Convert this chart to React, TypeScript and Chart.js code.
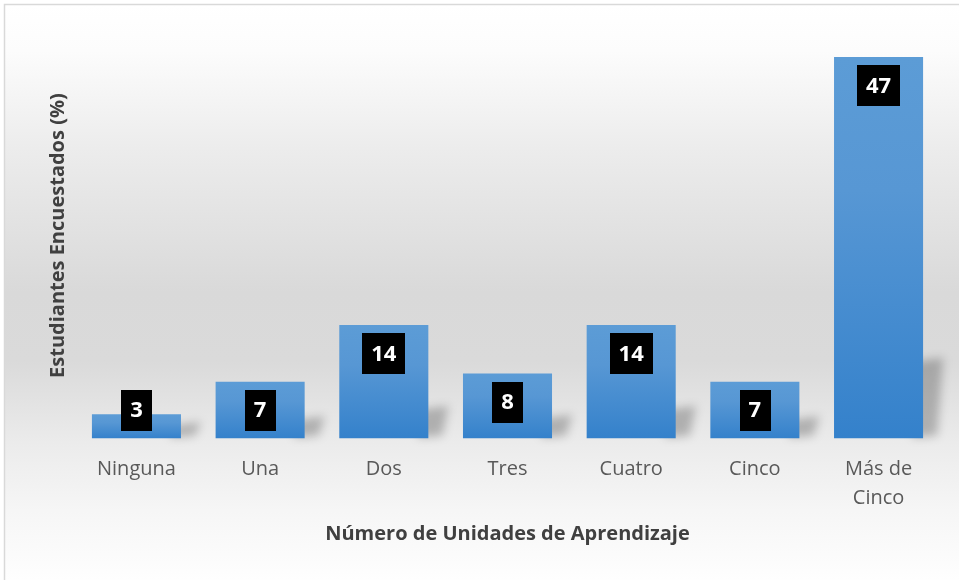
import { useEffect, useRef } from "react";
import { Chart, registerables } from "chart.js";

Chart.register(...registerables);

const categories: (string | string[])[] = ["Ninguna", "Una", "Dos", "Tres", "Cuatro", "Cinco", ["Más de", "Cinco"]];
const values: number[] = [3, 7, 14, 8, 14, 7, 47];
const yMin = 0;
const yMax = 50;
const xTitle = "Número de Unidades de Aprendizaje";
const yTitle = "Estudiantes Encuestados (%)";

const W = 959;
const H = 580;

const backgroundPlugin = {
  id: "bgFrame",
  beforeDraw(chart: any) {
    const ctx = chart.ctx;
    ctx.save();
    const g = ctx.createLinearGradient(0, 5, 0, H);
    g.addColorStop(0, "#ffffff");
    g.addColorStop(0.08, "#fcfcfc");
    g.addColorStop(0.25, "#ececec");
    g.addColorStop(0.5, "#d9d9d9");
    g.addColorStop(0.62, "#dadada");
    g.addColorStop(0.76, "#ebebeb");
    g.addColorStop(0.88, "#f6f6f6");
    g.addColorStop(1, "#fefefe");
    ctx.fillStyle = g;
    ctx.fillRect(5, 5, W - 5, H - 5);
    ctx.strokeStyle = "#d9d9d9";
    ctx.lineWidth = 1.5;
    ctx.beginPath();
    ctx.moveTo(4.5, H);
    ctx.lineTo(4.5, 4.5);
    ctx.lineTo(W, 4.5);
    ctx.stroke();
    ctx.restore();
  },
};

const shadowPlugin = {
  id: "barShadow",
  beforeDatasetsDraw(chart: any) {
    const ctx = chart.ctx;
    const meta = chart.getDatasetMeta(0);
    ctx.save();
    ctx.filter = "blur(5px)";
    ctx.fillStyle = "rgba(0,0,0,0.24)";
    meta.data.forEach((bar: any) => {
      const right = bar.x + bar.width / 2;
      const h = bar.base - bar.y;
      const sh = 12 + 0.18 * h;
      ctx.beginPath();
      ctx.moveTo(right - 10, bar.base - 1);
      ctx.lineTo(right + 14, bar.base - 3);
      ctx.lineTo(right + 20, bar.base - sh);
      ctx.lineTo(right - 10, bar.base - sh + 4);
      ctx.closePath();
      ctx.fill();
    });
    ctx.restore();
  },
};

const labelPlugin = {
  id: "boxLabels",
  afterDatasetsDraw(chart: any) {
    const ctx = chart.ctx;
    const meta = chart.getDatasetMeta(0);
    const ds = chart.data.datasets[0];
    ctx.save();
    ctx.font = "bold 22px 'Open Sans'";
    ctx.textAlign = "center";
    ctx.textBaseline = "middle";
    meta.data.forEach((bar: any, i: number) => {
      const txt = String(ds.data[i]);
      const tw = ctx.measureText(txt).width;
      const bw = tw + 18;
      const bh = 41;
      let top = bar.y + 8;
      if (top + bh > bar.base - 8) top = bar.base - 8 - bh;
      ctx.fillStyle = "#000000";
      ctx.fillRect(Math.round(bar.x - bw / 2), Math.round(top), Math.round(bw), bh);
      ctx.fillStyle = "#ffffff";
      ctx.fillText(txt, bar.x, top + bh / 2 + 1);
    });
    ctx.restore();
  },
};

export default function App() {
  const ref = useRef<HTMLCanvasElement | null>(null);

  useEffect(() => {
    if (!ref.current) return;
    const chart = new Chart(ref.current, {
      type: "bar",
      data: {
        labels: categories as any,
        datasets: [
          {
            data: values,
            backgroundColor: (c: any) => {
              const ch = c.chart;
              const ys = ch.scales?.y;
              if (!ys || c.raw === undefined) return "#4a8fd2";
              const top = ys.getPixelForValue(c.raw);
              const bottom = ys.getPixelForValue(0);
              if (!isFinite(top) || !isFinite(bottom) || top === bottom) return "#4a8fd2";
              const g = ch.ctx.createLinearGradient(0, top, 0, bottom);
              g.addColorStop(0, "#5c9cd6");
              g.addColorStop(0.35, "#5797d4");
              g.addColorStop(1, "#3481cb");
              return g;
            },
            borderWidth: 0,
            barPercentage: 0.72,
            categoryPercentage: 1,
          },
        ],
      },
      options: {
        animation: false,
        responsive: false,
        maintainAspectRatio: false,
        layout: { padding: { left: 46, right: 18.6, top: 32.7, bottom: 34 } },
        plugins: {
          legend: { display: false },
          tooltip: { enabled: false },
          title: { display: false },
        },
        scales: {
          x: {
            grid: { display: false, drawTicks: false },
            border: { display: false },
            ticks: {
              color: "#595959",
              font: { family: "'Open Sans'", size: 20, lineHeight: 1.45 },
              padding: 16,
              maxRotation: 0,
              autoSkip: false,
            },
            title: {
              display: true,
              text: xTitle,
              color: "#404040",
              font: { family: "'Open Sans'", size: 20, weight: "bold", lineHeight: 1.2 },
              padding: { top: -6.5, bottom: 0 },
            },
          },
          y: {
            min: yMin,
            max: yMax,
            grid: { display: false, drawTicks: false },
            border: { display: false },
            ticks: { display: false },
            title: {
              display: true,
              text: yTitle,
              color: "#404040",
              font: { family: "'Open Sans'", size: 20, weight: "bold", lineHeight: 1.2 },
              padding: { top: 0, bottom: 4.6 },
            },
          },
        },
      },
      plugins: [backgroundPlugin, shadowPlugin, labelPlugin],
    });
    return () => chart.destroy();
  }, []);

  return (
    <div style={{ position: "fixed", left: 0, top: 0, width: W, height: H }}>
      <canvas ref={ref} width={W} height={H} style={{ width: W, height: H, display: "block" }} />
    </div>
  );
}
